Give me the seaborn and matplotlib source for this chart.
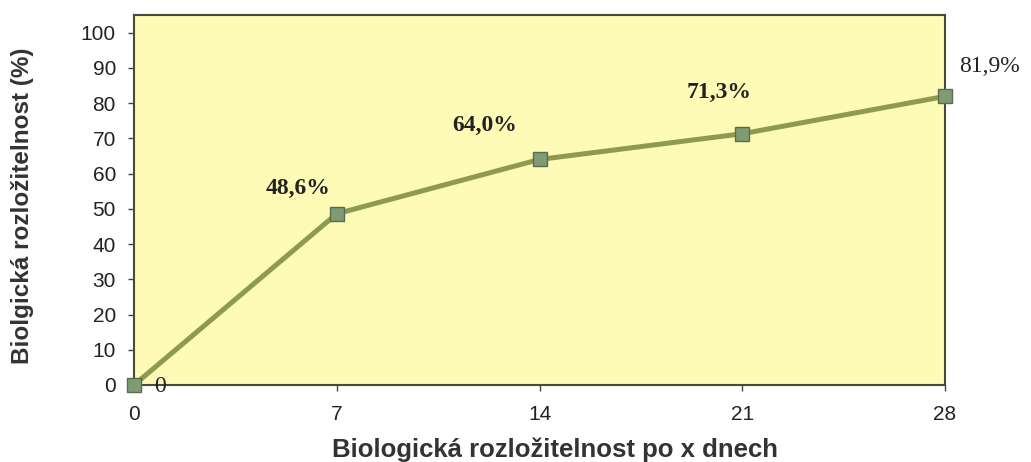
import matplotlib
matplotlib.use("Agg")
import matplotlib.pyplot as plt
import seaborn as sns
import pandas as pd

days = [0, 7, 14, 21, 28]
values = [0, 48.6, 64.0, 71.3, 81.9]
labels = ["0", "48,6%", "64,0%", "71,3%", "81,9%"]
yticks = [0, 10, 20, 30, 40, 50, 60, 70, 80, 90, 100]

sns.set_style("white")
plt.rcParams['font.family'] = ['Liberation Sans', 'DejaVu Sans']

fig = plt.figure(figsize=(10.31, 4.62), dpi=100)
ax = fig.add_axes([0.130, 0.1667, 0.7866, 0.8009])
ax.set_facecolor("#FDFBB6")

df = pd.DataFrame({"day": days, "val": values})
sns.lineplot(data=df, x="day", y="val", ax=ax, color="#8D9A4F", linewidth=3.6,
             marker="s", markersize=10, markerfacecolor="#7F9C70",
             markeredgecolor="#5A6A55", markeredgewidth=1, clip_on=False, zorder=5)

ax.set_xlim(0, 28)
ax.set_ylim(0, 105)
ax.set_xticks(days)
ax.set_xticklabels([str(d) for d in days])
ax.set_yticks(yticks)
ax.tick_params(axis="both", direction="out", length=4.5, width=1, colors="#444444",
               labelsize=15, labelcolor="#222222", bottom=True, left=True)
ax.tick_params(axis="x", pad=10)
ax.tick_params(axis="y", pad=8.5)
for s in ax.spines.values():
    s.set_color("#4A4A3A")
    s.set_linewidth(1.5)

offsets = [(26, -2), (-39, 25), (-55, 34), (-23, 41), (44, 30)]
weights = ["normal", "bold", "bold", "bold", "normal"]
for x, y, t, (dx, dy), w in zip(days, values, labels, offsets, weights):
    ax.annotate(t, (x, y), xytext=(dx, dy), textcoords="offset pixels",
                ha="center", va="center", fontsize=17, fontweight=w,
                family="Liberation Serif", color="#222222", annotation_clip=False)

ax.set_xlabel("Biologická rozložitelnost po x dnech", fontsize=18.5, fontweight="bold",
              color="#333333")
ax.set_ylabel("Biolgická rozložitelnost (%)", fontsize=17.5, fontweight="bold",
              color="#333333")
ax.xaxis.label.set_va("center")
ax.yaxis.label.set_va("center")
ax.xaxis.set_label_coords(0.519, -0.176)
ax.yaxis.set_label_coords(-0.138, 0.485)

fig.savefig("out.png", dpi=100)
